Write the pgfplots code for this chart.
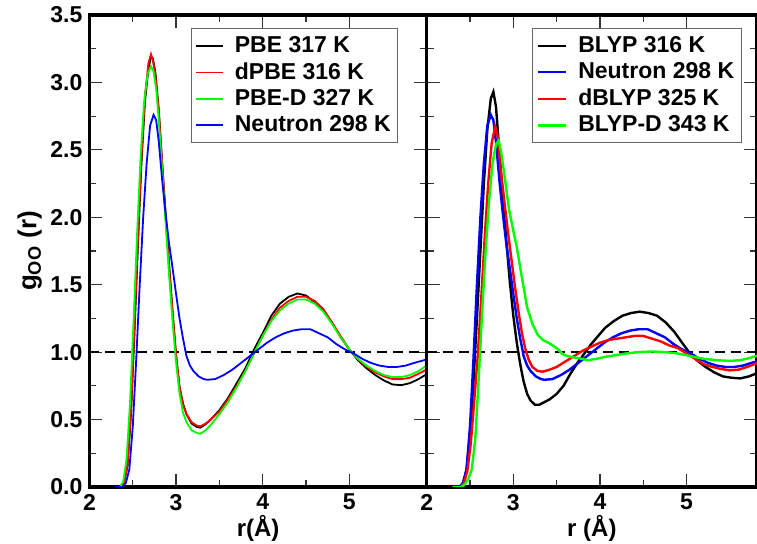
\documentclass[border=0pt]{standalone}
\usepackage{fontspec}
\setmainfont{Liberation Sans}
\usepackage{pgfplots}
\usepackage{pgfplotstable}
\pgfplotsset{compat=1.18}

% left panel: PBE family
\pgfplotstableread{
x y
2.30 0
2.36 0.00
2.40 0.03
2.44 0.16
2.48 0.55
2.52 1.15
2.56 1.80
2.60 2.40
2.64 2.85
2.68 3.10
2.71 3.19
2.73 3.18
2.76 3.08
2.80 2.80
2.84 2.40
2.88 2.02
2.92 1.65
2.96 1.30
3.00 0.98
3.04 0.74
3.08 0.62
3.12 0.54
3.18 0.47
3.24 0.445
3.28 0.44
3.34 0.465
3.40 0.50
3.50 0.57
3.60 0.66
3.70 0.77
3.80 0.88
3.90 1.02
4.00 1.14
4.10 1.27
4.20 1.36
4.30 1.41
4.40 1.435
4.50 1.42
4.60 1.37
4.70 1.31
4.80 1.22
4.90 1.11
5.00 1.02
5.10 0.94
5.20 0.88
5.30 0.83
5.40 0.79
5.50 0.76
5.60 0.755
5.70 0.77
5.80 0.80
5.89 0.835
}\pbe

\pgfplotstableread{
x y
2.30 0
2.36 0.00
2.40 0.03
2.44 0.17
2.48 0.58
2.52 1.20
2.56 1.85
2.60 2.45
2.64 2.90
2.68 3.14
2.71 3.21
2.73 3.17
2.76 3.06
2.80 2.78
2.84 2.39
2.88 2.00
2.92 1.62
2.96 1.28
3.00 0.97
3.04 0.74
3.08 0.61
3.12 0.54
3.18 0.48
3.24 0.455
3.28 0.45
3.34 0.47
3.40 0.50
3.50 0.56
3.60 0.65
3.70 0.75
3.80 0.86
3.90 0.99
4.00 1.12
4.10 1.24
4.20 1.33
4.30 1.38
4.40 1.41
4.50 1.41
4.60 1.38
4.70 1.32
4.80 1.22
4.90 1.12
5.00 1.02
5.10 0.95
5.20 0.89
5.30 0.85
5.40 0.82
5.50 0.80
5.60 0.80
5.70 0.81
5.80 0.84
5.89 0.87
}\dpbe

\pgfplotstableread{
x y
2.30 0
2.35 0.00
2.39 0.04
2.43 0.22
2.47 0.65
2.51 1.25
2.55 1.88
2.59 2.45
2.63 2.85
2.67 3.06
2.71 3.12
2.74 3.08
2.77 2.95
2.80 2.72
2.84 2.34
2.88 1.95
2.92 1.56
2.96 1.22
3.00 0.92
3.04 0.69
3.08 0.55
3.12 0.48
3.18 0.42
3.24 0.40
3.28 0.395
3.34 0.42
3.40 0.46
3.50 0.54
3.60 0.63
3.70 0.74
3.80 0.86
3.90 0.99
4.00 1.12
4.10 1.23
4.20 1.31
4.30 1.36
4.40 1.39
4.50 1.39
4.60 1.36
4.70 1.30
4.80 1.21
4.90 1.11
5.00 1.02
5.10 0.95
5.20 0.90
5.30 0.86
5.40 0.83
5.50 0.815
5.60 0.815
5.70 0.83
5.80 0.86
5.89 0.90
}\pbed

% neutron data, same in both panels
\pgfplotstableread{
x y
2.30 0
2.38 0.00
2.42 0.03
2.46 0.13
2.50 0.45
2.54 0.95
2.58 1.50
2.62 2.00
2.66 2.40
2.70 2.68
2.74 2.76
2.77 2.72
2.80 2.56
2.84 2.27
2.88 2.02
2.92 1.80
2.96 1.62
3.00 1.43
3.04 1.25
3.08 1.10
3.12 0.97
3.16 0.90
3.20 0.86
3.26 0.82
3.32 0.80
3.36 0.795
3.45 0.80
3.55 0.83
3.65 0.87
3.75 0.92
3.85 0.97
3.95 1.02
4.05 1.07
4.15 1.11
4.25 1.14
4.35 1.16
4.45 1.17
4.55 1.17
4.65 1.14
4.75 1.11
4.85 1.06
4.95 1.02
5.05 0.99
5.15 0.95
5.25 0.92
5.35 0.90
5.45 0.89
5.55 0.89
5.65 0.90
5.75 0.92
5.89 0.945
}\neutron

% right panel: BLYP family
\pgfplotstableread{
x y
2.30 0
2.38 0.00
2.42 0.03
2.46 0.13
2.50 0.38
2.54 0.78
2.58 1.25
2.62 1.75
2.66 2.25
2.70 2.65
2.74 2.88
2.77 2.93
2.80 2.82
2.84 2.48
2.88 2.15
2.92 1.82
2.96 1.52
3.00 1.27
3.04 1.07
3.08 0.91
3.12 0.78
3.16 0.69
3.20 0.64
3.25 0.61
3.30 0.61
3.36 0.63
3.42 0.65
3.50 0.69
3.58 0.75
3.66 0.84
3.74 0.92
3.82 0.99
3.90 1.06
3.98 1.12
4.06 1.18
4.16 1.23
4.26 1.27
4.36 1.29
4.46 1.30
4.56 1.29
4.66 1.27
4.76 1.22
4.86 1.15
4.96 1.06
5.04 0.99
5.12 0.94
5.22 0.89
5.32 0.85
5.42 0.82
5.52 0.81
5.62 0.805
5.72 0.82
5.82 0.845
}\blyp

\pgfplotstableread{
x y
2.30 0
2.39 0.00
2.43 0.03
2.47 0.12
2.51 0.33
2.55 0.65
2.59 0.98
2.63 1.40
2.67 1.85
2.71 2.25
2.75 2.55
2.79 2.67
2.82 2.60
2.86 2.32
2.90 2.10
2.94 1.88
2.98 1.68
3.02 1.48
3.06 1.30
3.10 1.14
3.14 1.02
3.18 0.94
3.22 0.89
3.28 0.86
3.34 0.855
3.42 0.87
3.50 0.89
3.60 0.93
3.70 0.97
3.80 1.01
3.90 1.04
4.00 1.07
4.10 1.09
4.20 1.10
4.30 1.11
4.40 1.12
4.50 1.12
4.60 1.10
4.70 1.08
4.80 1.05
4.90 1.03
5.00 0.99
5.10 0.95
5.20 0.91
5.30 0.89
5.40 0.875
5.50 0.865
5.60 0.87
5.70 0.89
5.82 0.92
}\dblyp

\pgfplotstableread{
x y
2.30 0
2.40 0.00
2.44 0.02
2.48 0.06
2.52 0.13
2.56 0.35
2.60 0.80
2.64 1.30
2.68 1.75
2.72 2.12
2.76 2.40
2.80 2.54
2.83 2.57
2.86 2.48
2.90 2.30
2.95 2.06
3.00 1.90
3.04 1.78
3.10 1.55
3.16 1.33
3.22 1.21
3.28 1.13
3.34 1.09
3.42 1.065
3.50 1.03
3.58 0.98
3.66 0.965
3.76 0.955
3.86 0.94
3.96 0.95
4.06 0.965
4.16 0.975
4.30 0.99
4.45 1.00
4.60 1.005
4.75 1.00
4.90 0.99
5.05 0.97
5.20 0.95
5.35 0.94
5.50 0.935
5.62 0.94
5.72 0.955
5.82 0.975
}\blypd

\pgfplotsset{
  gofr/.style={
    scale only axis,
    height=236pt,
    xmin=2, ymin=0, ymax=3.5,
    xtick={2,3,4,5}, minor x tick num=1,
    ytick={0,0.5,1,1.5,2,2.5,3,3.5}, minor y tick num=1,
    tick align=inside, xtick pos=both, ytick pos=both,
    major tick length=6.5pt, minor tick length=3.5pt,
    tick style={line width=0.6pt, black!80},
    axis line style={line width=1.6pt},
    /pgf/number format/assume math mode=true,
    tick label style={font=\bfseries\fontsize{11.5}{13}\selectfont},
    yticklabel style={/pgf/number format/.cd, fixed, fixed zerofill, precision=1},
    every axis x label/.style={at={(axis description cs:0.5,0)}, yshift=-20.5pt, anchor=center,
      font=\bfseries\fontsize{12}{14}\selectfont},
    legend cell align=left,
    legend style={anchor=north east, draw=black!60, line width=0.5pt,
      font=\bfseries\fontsize{11.5}{13}\selectfont,
      inner xsep=2pt, inner ysep=2pt,
      nodes={inner ysep=1.8pt, inner xsep=1.5pt},
      /tikz/every odd column/.append style={column sep=4pt}},
  },
  ref/.style={black, dash pattern=on 5pt off 3pt, line width=1pt, forget plot},
}

\begin{document}
\begin{tikzpicture}
\begin{axis}[gofr, name=L,
    width=168.6pt, xmax=5.894,
    ylabel={g\textsubscript{OO} (r)},
    every axis y label/.style={at={(axis description cs:0,0.5)}, xshift=-29.9pt, rotate=90, anchor=center,
      font=\bfseries\fontsize{13}{15}\selectfont},
    xlabel={r(Å)},
    legend style={at={(0.9158,0.9718)}},
    legend image code/.code={\draw[#1] (0cm,0cm) -- (0.47cm,0cm);},
  ]
  \addplot[ref] coordinates {(2,1) (5.894,1)};
  \addplot[black, line width=0.9pt] table {\pbe};
  \addlegendentry{PBE 317 K}
  \addplot[red, line width=0.9pt] table {\dpbe};
  \addlegendentry{dPBE 316 K}
  \addplot[green, line width=0.9pt] table {\pbed};
  \addlegendentry{PBE-D 327 K}
  \addplot[blue, line width=0.9pt] table {\neutron};
  \addlegendentry{Neutron 298 K}
\end{axis}
\begin{axis}[gofr, at={(L.south east)}, anchor=south west,
    width=165.15pt, xmax=5.814,
    yticklabels={},
    xlabel={r (Å)},
    legend style={at={(0.9537,0.9718)}},
    legend image code/.code={\draw[#1] (0cm,0cm) -- (0.5cm,0cm);},
  ]
  \addplot[ref] coordinates {(2,1) (5.814,1)};
  \addplot[black, line width=1.2pt] table {\blyp};
  \addlegendentry{BLYP 316 K}
  \addplot[blue, line width=1.2pt] table {\neutron};
  \addlegendentry{Neutron 298 K}
  \addplot[red, line width=1.2pt] table {\dblyp};
  \addlegendentry{dBLYP 325 K}
  \addplot[green, line width=1.2pt] table {\blypd};
  \addlegendentry{BLYP-D 343 K}
\end{axis}
\pgfresetboundingbox
\path ([shift={(-44.75pt,-28.5pt)}]L.south west) rectangle ([shift={(333.75pt,243.5pt)}]L.south west);
\end{tikzpicture}
\end{document}
